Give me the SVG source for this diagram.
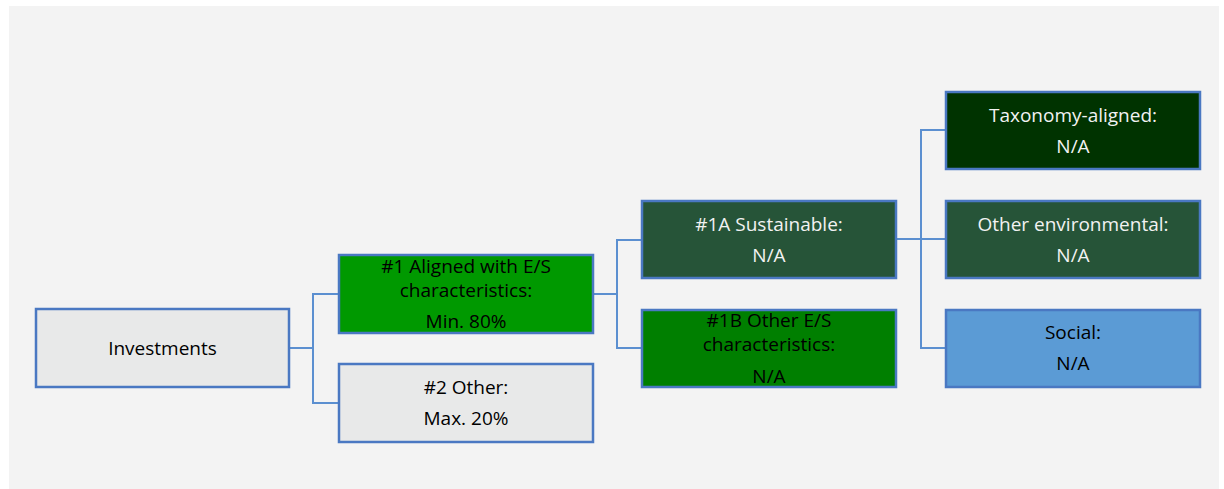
<svg xmlns="http://www.w3.org/2000/svg" width="1224" height="489" viewBox="0 0 1224 489">
<style>
.box{stroke:#4a78c2;stroke-width:2.5}
.lt{font-family:"Open Sans","Liberation Sans",sans-serif;font-size:19px;text-anchor:middle;fill:#000}
.wt{font-family:"Open Sans","Liberation Sans",sans-serif;font-size:19px;text-anchor:middle;fill:#f2f2f2}
.con{fill:none;stroke:#5b8fd0;stroke-width:2}
</style>
<rect x="0" y="0" width="1224" height="489" fill="#ffffff"/>
<rect x="9" y="6" width="1210" height="483" fill="#f3f3f3"/>
<g id="connectors">
<polyline class="con" points="289,348 313,348"/>
<polyline class="con" points="339,294 313,294 313,403 339,403"/>
<polyline class="con" points="593,294 617,294"/>
<polyline class="con" points="642,240 617,240 617,348 642,348"/>
<polyline class="con" points="896,239 946,239"/>
<polyline class="con" points="946,130 921,130 921,348 946,348"/>
</g>
<g id="investments">
<rect class="box" x="36" y="309" width="253" height="78" fill="#e8e9e9"/>
<text class="lt" x="162.5" y="355">Investments</text>
</g>
<g id="aligned">
<rect class="box" x="339" y="255" width="254" height="78" fill="#009900"/>
<text class="lt" x="466" y="273">#1 Aligned with E/S</text>
<text class="lt" x="466" y="297">characteristics:</text>
<text class="lt" x="466" y="328">Min. 80%</text>
</g>
<g id="other">
<rect class="box" x="339" y="364" width="254" height="78" fill="#e8e9e9"/>
<text class="lt" x="466" y="394">#2 Other:</text>
<text class="lt" x="466" y="425">Max. 20%</text>
</g>
<g id="sustainable">
<rect class="box" x="642" y="201" width="254" height="77" fill="#265438"/>
<text class="wt" x="769" y="231">#1A Sustainable:</text>
<text class="wt" x="769" y="262">N/A</text>
</g>
<g id="other-es">
<rect class="box" x="642" y="310" width="254" height="77" fill="#007f00"/>
<text class="lt" x="769" y="327">#1B Other E/S</text>
<text class="lt" x="769" y="351">characteristics:</text>
<text class="lt" x="769" y="383">N/A</text>
</g>
<g id="taxonomy">
<rect class="box" x="946" y="92" width="254" height="77" fill="#003300"/>
<text class="wt" x="1073" y="122">Taxonomy-aligned:</text>
<text class="wt" x="1073" y="153">N/A</text>
</g>
<g id="other-env">
<rect class="box" x="946" y="201" width="254" height="77" fill="#265438"/>
<text class="wt" x="1073" y="231">Other environmental:</text>
<text class="wt" x="1073" y="262">N/A</text>
</g>
<g id="social">
<rect class="box" x="946" y="310" width="254" height="77" fill="#5b9bd5"/>
<text class="lt" x="1073" y="339">Social:</text>
<text class="lt" x="1073" y="370">N/A</text>
</g>
</svg>
